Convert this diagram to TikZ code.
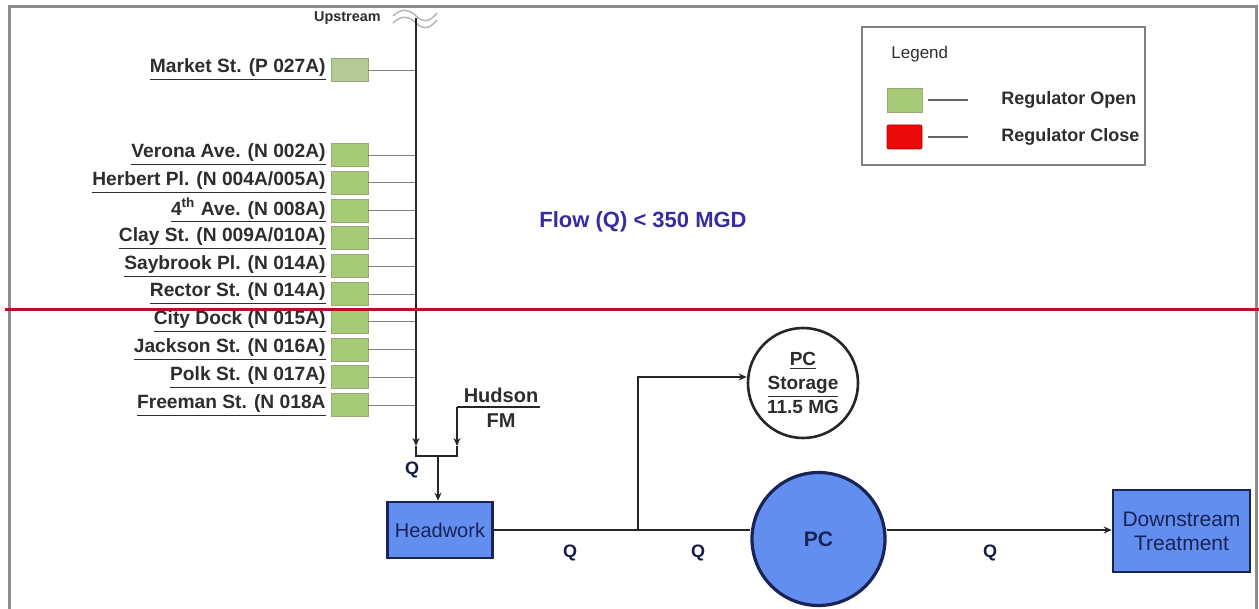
\documentclass[tikz,border=0pt]{standalone}
\usepackage{fontspec}
\setmainfont{Liberation Sans}
\usetikzlibrary{arrows.meta}
\definecolor{regopen}{RGB}{166,202,120}
\definecolor{regmkt}{RGB}{182,200,150}
\definecolor{regedge}{RGB}{150,170,120}
\definecolor{regclose}{RGB}{235,10,10}
\definecolor{pcblue}{RGB}{98,142,240}
\definecolor{navy}{RGB}{25,35,85}
\definecolor{flowblue}{RGB}{55,45,160}
\definecolor{redline}{RGB}{185,15,45}
\definecolor{txt}{RGB}{45,45,45}
\begin{document}
\begin{tikzpicture}[x=0.5pt,y=-0.5pt,
  lbl/.style={font=\bfseries\fontsize{9.6}{10}\selectfont, text=txt, anchor=east, inner sep=1pt},
  regbox/.style={draw=regedge, fill=regopen, minimum width=18.5pt, minimum height=11.5pt, inner sep=0pt},
  feed/.style={draw=gray, line width=0.4pt},
  pipe/.style={draw=black!85, line width=1.25pt},
  arr/.style={-{Stealth[length=4pt,width=3.5pt]}},
  qlbl/.style={font=\bfseries\fontsize{9}{10}\selectfont, text=navy!80!black},
  bluebox/.style={draw=navy, line width=1.3pt, fill=pcblue, text=navy, align=center, inner sep=1pt}
]
\useasboundingbox (0,0) rectangle (1259,609);
% frame
\draw[gray!90, line width=1.5pt] (9,609) -- (9,7) -- (1256,7) -- (1256,609);
% main line top
\coordinate (mt) at (416,18);
\coordinate (mb) at (416,446);
% upstream
\node[lbl, font=\bfseries\fontsize{7.2}{8}\selectfont] (up) at (383,18) {Upstream};
\draw[gray!55, line width=0.8pt] (393,16) .. controls (401,8) and (409,9) .. (416,16) .. controls (423,23) and (430,22) .. (437,13);
\draw[gray!55, line width=0.8pt] (393,23) .. controls (401,15) and (409,16) .. (416,23) .. controls (423,30) and (430,29) .. (437,20);
% regulators
\node[regbox, fill=regmkt] (r0) at (349.5,70) {};
\node[lbl] (l0) at (328,70) {\underline{Market St. (P 027A)}};
\node[regbox] (r1) at (349.5,155) {};
\node[lbl] (l1) at (328,155) {\underline{Verona Ave. (N 002A)}};
\node[regbox] (r2) at (349.5,182.8) {};
\node[lbl] (l2) at (328,182.8) {\underline{Herbert Pl. (N 004A/005A)}};
\node[regbox] (r3) at (349.5,210.6) {};
\node[lbl] (l3) at (328,210.6) {\underline{4\textsuperscript{th} Ave. (N 008A)}};
\node[regbox] (r4) at (349.5,238.4) {};
\node[lbl] (l4) at (328,238.4) {\underline{Clay St. (N 009A/010A)}};
\node[regbox] (r5) at (349.5,266.2) {};
\node[lbl] (l5) at (328,266.2) {\underline{Saybrook Pl. (N 014A)}};
\node[regbox] (r6) at (349.5,294) {};
\node[lbl] (l6) at (328,294) {\underline{Rector St. (N 014A)}};
\node[regbox] (r7) at (349.5,321.8) {};
\node[lbl] (l7) at (328,321.8) {\underline{City Dock (N 015A)}};
\node[regbox] (r8) at (349.5,349.6) {};
\node[lbl] (l8) at (328,349.6) {\underline{Jackson St. (N 016A)}};
\node[regbox] (r9) at (349.5,377.4) {};
\node[lbl] (l9) at (328,377.4) {\underline{Polk St. (N 017A)}};
\node[regbox] (r10) at (349.5,405.2) {};
\node[lbl] (l10) at (328,405.2) {\underline{Freeman St. (N 018A}};
\foreach \r in {r0,r1,r2,r3,r4,r5,r6,r7,r8,r9,r10}
  \draw[feed] (\r.east) -- (\r.east -| mt);
% main line
\draw[pipe, arr] (mt) -- (mb);
% Hudson FM
\node[font=\bfseries\fontsize{10}{11}\selectfont, text=txt, inner sep=1pt] (hud) at (501,395) {Hudson};
\node[font=\bfseries\fontsize{10}{11}\selectfont, text=txt, inner sep=1pt] (fm) at (501,421) {FM};
\coordinate (hs) at (540,407);
\coordinate (hc) at (457,407);
\coordinate (hb) at (457,446);
\draw[pipe] (hs) -- (hc);
\draw[pipe, arr] (hc) -- (hb);
% junction bracket
\coordinate (j1) at (416,456);
\coordinate (j2) at (457,456);
\coordinate (jm) at (438,456);
\draw[pipe] (mb) -- (j1) -- (j2) -- (hb);
% headwork
\node[bluebox, font=\fontsize{10}{11}\selectfont, minimum width=52.5pt, minimum height=28pt] (hw) at (440,530) {Headwork};
\draw[pipe, arr] (jm) -- (jm |- hw.north);
\node[qlbl] (q0) at (412,470) {Q};
% PC storage
\node[circle, draw=black!85, line width=1.3pt, fill=white, minimum size=55pt, inner sep=0pt, align=center,
  font=\bfseries\fontsize{9.5}{12}\selectfont, text=txt] (st) at (803,383) {\underline{PC}\\\underline{Storage}\\11.5 MG};
% PC
\node[circle, draw=navy, line width=1.6pt, fill=pcblue, minimum size=66.5pt, inner sep=0pt,
  font=\bfseries\fontsize{10.5}{12}\selectfont, text=navy] (pc) at (818.5,539) {PC};
% downstream
\node[bluebox, font=\fontsize{10.5}{12}\selectfont, minimum width=68.5pt, minimum height=41pt] (ds) at (1181.5,531) {Downstream\\Treatment};
% pipes
\coordinate (tee) at (638,530);
\coordinate (teeup) at (638,377);
\draw[pipe] (hw.east |- tee) -- (tee) -- (tee -| pc.west);
\draw[pipe, arr] (tee) -- (teeup) -- (teeup -| st.west);
\draw[pipe, arr] (pc.east |- tee) -- (tee -| ds.west);
\node[qlbl] (q1) at (570,553) {Q};
\node[qlbl] (q2) at (698,553) {Q};
\node[qlbl] (q3) at (990,553) {Q};
% flow text
\node[font=\bfseries\fontsize{11}{13}\selectfont, text=flowblue] (flow) at (643,222) {Flow (Q) < 350 MGD};
% legend
\node[draw=gray, line width=0.6pt, minimum width=141.5pt, minimum height=69pt, inner sep=0pt] (leg) at (1003.5,96) {};
\node[font=\fontsize{8.5}{10}\selectfont, text=txt, anchor=west, inner sep=1pt] (legt) at (889,54) {Legend};
\node[regbox, minimum width=17.5pt, minimum height=12pt] (lgo) at (904.5,100) {};
\node[regbox, fill=regclose, draw=red!70!black, minimum width=17.5pt, minimum height=12pt, rounded corners=1pt] (lgc) at (904.5,137) {};
\node[font=\bfseries\fontsize{9}{10}\selectfont, text=txt, anchor=west, inner sep=1pt] (lto) at (999,100) {Regulator Open};
\node[font=\bfseries\fontsize{9}{10}\selectfont, text=txt, anchor=west, inner sep=1pt] (ltc) at (999,137) {Regulator Close};
\coordinate (leo) at (968,100);
\coordinate (lec) at (968,137);
\draw[draw=gray!80!black, line width=0.6pt] (lgo.east) ++(3pt,0) -- (leo);
\draw[draw=gray!80!black, line width=0.6pt] (lgc.east) ++(3pt,0) -- (lec);
% red line
\coordinate (rl1) at (5,310);
\coordinate (rl2) at (1259,310);
\draw[redline, line width=1.5pt] (rl1) -- (rl2);
\end{tikzpicture}
\end{document}
